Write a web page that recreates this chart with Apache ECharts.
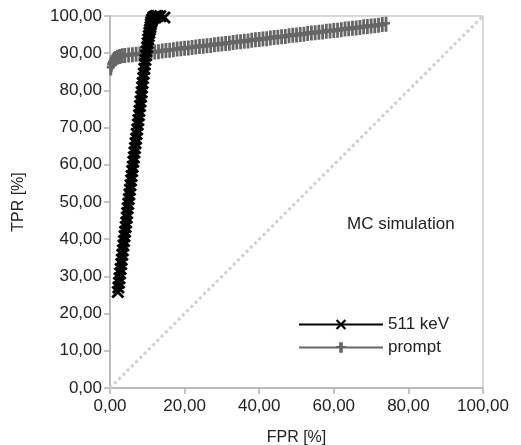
<!DOCTYPE html>
<html>
<head>
<meta charset="utf-8">
<script src="https://cdn.jsdelivr.net/npm/echarts@6/dist/echarts.min.js"></script>
<style>
  html, body { margin: 0; padding: 0; background: #fff; }
  #chart { width: 521px; height: 445px; }
</style>
</head>
<body>
<div id="chart"></div>
<script>
// 511 keV 曲线 (FPR, TPR)
var fpr511 = [2.1, 2.25, 2.4, 2.55, 2.7, 2.85, 3.0, 3.15, 3.3, 3.45, 3.6, 3.75, 3.9, 4.05, 4.2, 4.35, 4.5, 4.6, 4.75, 4.9,
  5.05, 5.2, 5.35, 5.5, 5.65, 5.8, 5.95, 6.1, 6.25, 6.4, 6.55, 6.7, 6.85, 7.0, 7.15, 7.3, 7.45, 7.6, 7.75, 7.9,
  8.05, 8.2, 8.35, 8.5, 8.6, 8.75, 8.9, 9.05, 9.2, 9.35, 9.5, 9.65, 9.8, 9.95, 10.1, 10.25, 10.4, 10.55, 10.7, 10.85,
  10.95, 11.05, 11.2, 11.4, 11.6, 11.9, 12.3, 12.8, 13.5, 14.6];
var tpr511 = [25.8, 27.0, 28.3, 29.5, 30.8, 32.0, 33.3, 34.5, 35.8, 37.0, 38.3, 39.5, 40.8, 42.0, 43.3, 44.5, 45.8, 47.0, 48.3, 49.5,
  50.8, 52.0, 53.3, 54.5, 55.8, 57.0, 58.3, 59.5, 60.8, 62.0, 63.3, 64.5, 65.8, 67.0, 68.3, 69.5, 70.8, 72.0, 73.3, 74.5,
  75.8, 77.0, 78.3, 79.5, 80.8, 82.0, 83.3, 84.5, 85.8, 87.0, 88.2, 89.4, 90.5, 91.6, 92.7, 93.7, 94.6, 95.5, 96.3, 97.0,
  97.7, 98.3, 98.8, 99.2, 99.6, 99.8, 100.0, 100.0, 99.9, 99.6];

// prompt 曲线
var fprPrompt = [0.2, 0.3, 0.5, 0.8, 1.1, 1.5, 2.0, 2.6, 3.3, 4.0,
  5, 6, 7, 8, 9, 10, 11, 12, 13, 14, 15, 16, 17, 18, 19, 20, 21, 22, 23, 24, 25, 26, 27, 28, 29, 30,
  31, 32, 33, 34, 35, 36, 37, 38, 39, 40, 41, 42, 43, 44, 45, 46, 47, 48, 49, 50, 51, 52, 53, 54, 55,
  56, 57, 58, 59, 60, 61, 62, 63, 64, 65, 66, 67, 68, 69, 70, 71, 72, 73, 74];
var tprPrompt = [86.0, 86.8, 87.4, 87.9, 88.3, 88.6, 88.9, 89.1, 89.3, 89.4,
  89.5, 89.6, 89.7, 89.8, 89.9, 90.0, 90.2, 90.3, 90.4, 90.6, 90.7, 90.8, 90.9, 91.1, 91.2, 91.3, 91.4, 91.5, 91.7, 91.8, 91.9, 92.0, 92.1, 92.3, 92.4, 92.5,
  92.6, 92.7, 92.9, 93.0, 93.1, 93.2, 93.3, 93.5, 93.6, 93.7, 93.8, 93.9, 94.1, 94.2, 94.3, 94.4, 94.5, 94.7, 94.8, 94.9, 95.0, 95.1, 95.3, 95.4, 95.5,
  95.6, 95.7, 95.9, 96.0, 96.1, 96.2, 96.3, 96.5, 96.6, 96.7, 96.8, 96.9, 97.1, 97.2, 97.3, 97.4, 97.5, 97.7, 97.8];

// 对角线
var diagX = [0, 100];
var diagY = [0, 100];

function zip(a, b) {
  var out = [];
  for (var i = 0; i < a.length; i++) out.push([a[i], b[i]]);
  return out;
}
function fmt(v) {
  return v.toFixed(2).replace('.', ',');
}

// 粗的 x 和 + 标记
var crossPath = 'path://M0,1.5L1.5,0L5,3.5L8.5,0L10,1.5L6.5,5L10,8.5L8.5,10L5,6.5L1.5,10L0,8.5L3.5,5Z';
var plusPath = 'path://M2.6,0H5.4V5H8V7.4H5.4V14H2.6V7.4H0V5H2.6Z';

var myChart = echarts.init(document.getElementById('chart'));
var option = {
  animation: false,
  textStyle: { fontFamily: 'Liberation Sans, Arial, sans-serif' },
  grid: {
    left: 110, right: 38, top: 16, bottom: 57,
    outerBoundsMode: 'none',
    show: true,
    borderColor: '#b3b3b3',
    borderWidth: 1
  },
  legend: {
    data: ['511 keV', 'prompt'],
    orient: 'vertical',
    left: 293,
    top: 311,
    itemWidth: 84,
    itemHeight: 13,
    itemGap: 6,
    textStyle: { fontSize: 17, color: '#222' }
  },
  graphic: [{
    type: 'text',
    left: 347,
    top: 216,
    style: { text: 'MC simulation', fontSize: 17, fill: '#222', fontFamily: 'Liberation Sans, Arial, sans-serif' }
  }],
  xAxis: {
    type: 'value',
    min: 0, max: 100, interval: 20,
    name: 'FPR [%]',
    nameLocation: 'middle',
    nameGap: 42,
    nameTextStyle: { fontSize: 16, color: '#222' },
    axisLine: { lineStyle: { color: '#b3b3b3', width: 1.5 } },
    axisTick: { show: true, length: 6, lineStyle: { color: '#b3b3b3', width: 1.5 } },
    axisLabel: { fontSize: 17, color: '#222', margin: 10, formatter: fmt },
    splitLine: { show: false }
  },
  yAxis: {
    type: 'value',
    min: 0, max: 100, interval: 10,
    name: 'TPR [%]',
    nameLocation: 'middle',
    nameGap: 83,
    nameTextStyle: { fontSize: 16, color: '#222' },
    axisLine: { show: true, lineStyle: { color: '#b3b3b3', width: 1.5 } },
    axisTick: { show: true, length: 6, lineStyle: { color: '#b3b3b3', width: 1.5 } },
    axisLabel: { fontSize: 17, color: '#222', margin: 8, formatter: fmt },
    splitLine: { show: false }
  },
  series: [
    {
      name: 'diag',
      type: 'line',
      data: zip(diagX, diagY),
      showSymbol: false,
      silent: true,
      lineStyle: { color: '#d0d0d0', width: 3, type: 'dotted' }
    },
    {
      name: 'prompt',
      type: 'line',
      data: zip(fprPrompt, tprPrompt),
      symbol: plusPath,
      symbolSize: [8, 15],
      showAllSymbol: true,
      clip: false,
      itemStyle: { color: '#666666' },
      lineStyle: { color: '#666666', width: 4 }
    },
    {
      name: '511 keV',
      type: 'line',
      data: zip(fpr511, tpr511),
      symbol: crossPath,
      symbolSize: 13,
      showAllSymbol: true,
      clip: false,
      itemStyle: { color: '#000000' },
      lineStyle: { color: '#000000', width: 5 }
    }
  ]
};
myChart.setOption(option);
window.addEventListener('resize', function () {
  myChart.resize();
});
</script>
</body>
</html>
